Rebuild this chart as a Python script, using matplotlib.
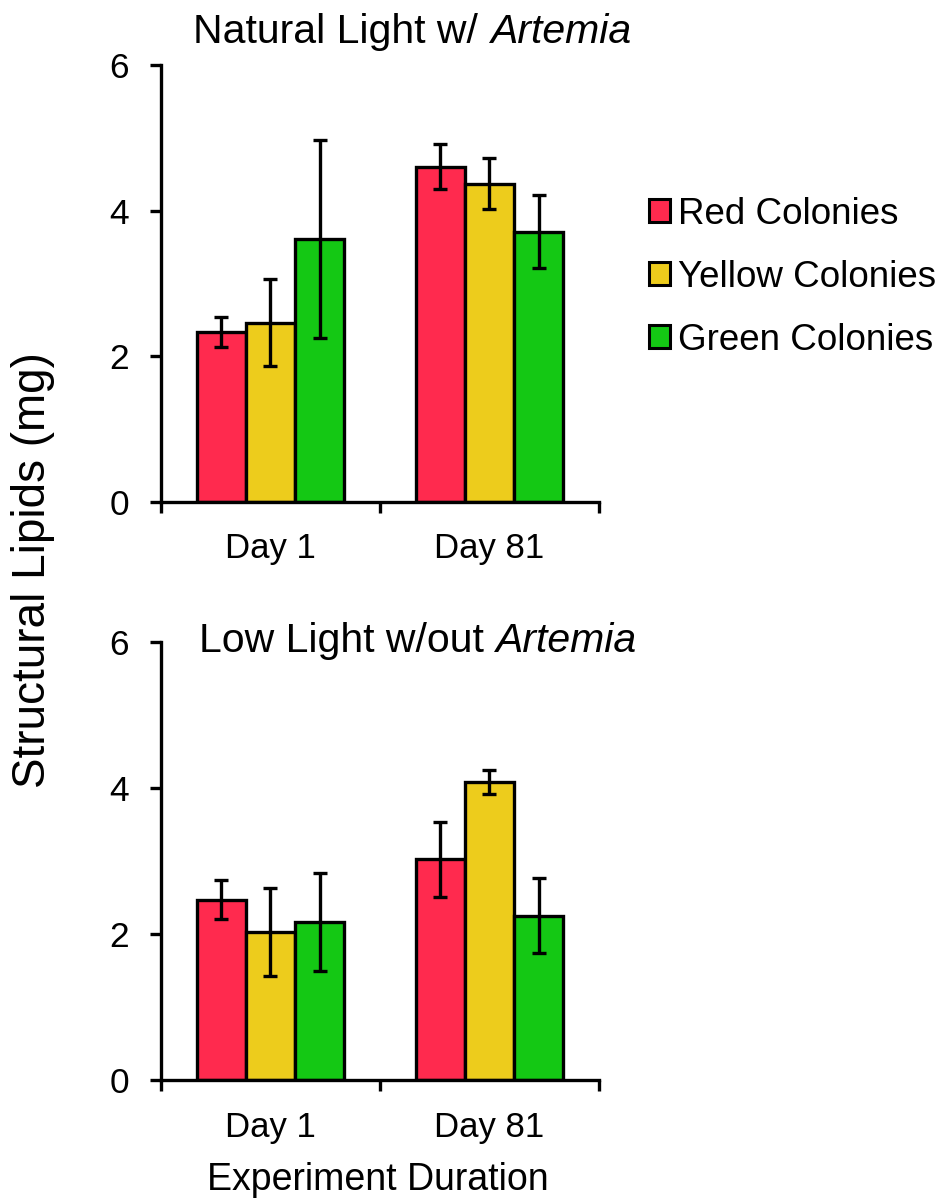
import matplotlib
matplotlib.use("Agg")
import matplotlib.pyplot as plt
import numpy as np
from matplotlib.patches import Patch

plt.rcParams['font.family'] = ['Liberation Sans', 'DejaVu Sans']

days = ["Day 1", "Day 81"]
series = ["Red Colonies", "Yellow Colonies", "Green Colonies"]
colors = ["#FF2A4E", "#EDCC1C", "#14C814"]

# Natural light with Artemia
natural_mean = {
    "Red Colonies": [2.33, 4.60],
    "Yellow Colonies": [2.46, 4.37],
    "Green Colonies": [3.61, 3.71],
}
natural_err = {
    "Red Colonies": [0.21, 0.31],
    "Yellow Colonies": [0.60, 0.35],
    "Green Colonies": [1.36, 0.50],
}

# Low light without Artemia
low_mean = {
    "Red Colonies": [2.47, 3.02],
    "Yellow Colonies": [2.03, 4.08],
    "Green Colonies": [2.16, 2.25],
}
low_err = {
    "Red Colonies": [0.27, 0.51],
    "Yellow Colonies": [0.60, 0.165],
    "Green Colonies": [0.67, 0.515],
}

fig = plt.figure(figsize=(9.43, 12.02), dpi=100)
ax_top = fig.add_axes([0.1707, 0.5826, 0.4645, 0.3633])
ax_bot = fig.add_axes([0.1707, 0.1015, 0.4645, 0.3646])

bar_w = 0.225
x = np.arange(len(days))
LW = 2.4


def draw_panel(ax, means, errs):
    for i, name in enumerate(series):
        pos = x + (i - 1) * bar_w
        ax.bar(pos, means[name], width=bar_w, color=colors[i],
               edgecolor="black", linewidth=LW, zorder=2)
        ax.errorbar(pos, means[name], yerr=errs[name], fmt="none",
                    ecolor="black", elinewidth=LW, capsize=5,
                    capthick=LW, zorder=3)
    ax.set_xlim(-0.5, 1.5)
    ax.set_ylim(0, 6)
    ax.set_yticks([0, 2, 4, 6])
    ax.set_xticks([-0.5, 0.5, 1.5])
    ax.set_xticklabels([])
    ax.set_xticks(x, minor=True)
    ax.set_xticklabels(days, minor=True)
    ax.tick_params(axis="x", which="minor", length=0, pad=22, labelsize=25)
    ax.tick_params(axis="x", which="major", length=8, width=LW,
                   direction="out")
    ax.tick_params(axis="y", length=8, width=LW, direction="out",
                   labelsize=25.5, pad=15)
    for side in ("top", "right"):
        ax.spines[side].set_visible(False)
    for side in ("left", "bottom"):
        ax.spines[side].set_linewidth(LW)


draw_panel(ax_top, natural_mean, natural_err)
draw_panel(ax_bot, low_mean, low_err)


def mixed_title(x0, y0, plain, italic, size):
    t = fig.text(x0, y0, plain, fontsize=size, ha="left", va="center")
    fig.canvas.draw()
    bb = t.get_window_extent(fig.canvas.get_renderer())
    fig.text(bb.x1 / fig.bbox.width, y0, italic, fontsize=size,
             style="italic", ha="left", va="center")


mixed_title(0.205, 0.9735, "Natural Light w/ ", "Artemia", 29.5)
mixed_title(0.211, 0.4665, "Low Light w/out ", "Artemia", 29.5)

fig.text(0.035, 0.5255, "Structural Lipids (mg)", fontsize=33,
         rotation=90, ha="center", va="center")
fig.text(0.401, 0.018, "Experiment Duration", fontsize=27,
         ha="center", va="center")

handles = [Patch(facecolor=c, edgecolor="black", linewidth=2.2)
           for c in colors]
fig.legend(handles, series, loc="center left",
           bbox_to_anchor=(0.688, 0.7695), frameon=False, fontsize=26.5,
           handlelength=0.58, handleheight=0.58, handletextpad=0.22,
           labelspacing=0.76, borderaxespad=0, borderpad=0)

fig.savefig("out.png", dpi=100, facecolor="white")
